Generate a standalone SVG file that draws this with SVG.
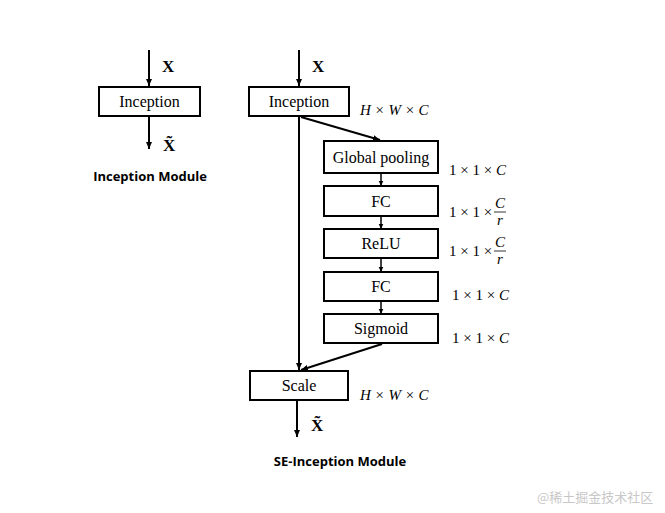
<svg xmlns="http://www.w3.org/2000/svg" width="665" height="513" viewBox="0 0 665 513">
<defs>
<marker id="ah" markerWidth="8" markerHeight="8" refX="7" refY="4" orient="auto" markerUnits="userSpaceOnUse">
<path d="M0,1 L7,4 L0,7 Z" fill="#000"/>
</marker>
<marker id="ahs" markerWidth="6" markerHeight="6" refX="5.5" refY="3" orient="auto" markerUnits="userSpaceOnUse">
<path d="M0,0.5 L5.5,3 L0,5.5 Z" fill="#000"/>
</marker>
<style>
.box{fill:#fff;stroke:#000;stroke-width:2}
.lbl{font-family:"Liberation Serif","Times New Roman",serif;font-size:16px;fill:#000;text-anchor:middle}
.x{font-family:"Liberation Serif","Times New Roman",serif;font-size:17px;font-weight:bold;fill:#000}
.dim{font-family:"Liberation Serif","Times New Roman",serif;font-size:15px;fill:#000}
.it{font-style:italic}
.cap{font-family:"Open Sans","Liberation Sans",sans-serif;font-size:13px;font-weight:bold;fill:#000;text-anchor:middle}
.ln{stroke:#000;stroke-width:2;fill:none}
.lns{stroke:#000;stroke-width:1.5;fill:none}
.wm{font-family:"Noto Sans CJK SC","Noto Sans",sans-serif;font-size:13px;fill:#c8c8c8}
</style>
</defs>
<rect width="665" height="513" fill="#fff"/>

<g id="connectors">
<line class="ln" x1="149" y1="50" x2="149" y2="86" marker-end="url(#ah)"/>
<line class="ln" x1="149" y1="117" x2="149" y2="149" marker-end="url(#ah)"/>
<line class="ln" x1="299" y1="50" x2="299" y2="86" marker-end="url(#ah)"/>
<line class="ln" x1="299" y1="117" x2="299" y2="370" marker-end="url(#ah)"/>
<line class="ln" x1="301" y1="117" x2="380" y2="140" marker-end="url(#ah)"/>
<line class="lns" x1="381" y1="174" x2="381" y2="186" marker-end="url(#ahs)"/>
<line class="lns" x1="381" y1="217" x2="381" y2="229" marker-end="url(#ahs)"/>
<line class="lns" x1="381" y1="259" x2="381" y2="272" marker-end="url(#ahs)"/>
<line class="lns" x1="381" y1="302" x2="381" y2="314" marker-end="url(#ahs)"/>
<line class="ln" x1="382" y1="344" x2="301" y2="370" marker-end="url(#ah)"/>
<line class="ln" x1="297" y1="401" x2="297" y2="437" marker-end="url(#ah)"/>
</g>

<g id="inception-left">
<rect class="box" x="99" y="87" width="101" height="29"/>
<text class="lbl" x="149.5" y="107">Inception</text>
</g>
<text class="x" x="162" y="72">X</text>
<text class="x" x="163" y="151">X̃</text>
<text class="cap" x="150" y="181">Inception Module</text>

<g id="inception-right">
<rect class="box" x="249" y="87" width="100" height="29"/>
<text class="lbl" x="299" y="107">Inception</text>
</g>
<text class="x" x="312" y="72">X</text>
<text class="dim it" x="360" y="115">H × W × C</text>

<g id="global-pooling">
<rect class="box" x="324" y="141" width="114" height="32"/>
<text class="lbl" x="381" y="163">Global pooling</text>
</g>
<text class="dim" x="449" y="175">1 × 1 × <tspan class="it">C</tspan></text>

<g id="fc1">
<rect class="box" x="324" y="186" width="114" height="30"/>
<text class="lbl" x="381" y="207">FC</text>
</g>
<text class="dim" x="449" y="217">1 × 1 ×</text>
<text class="dim it" x="500" y="208" text-anchor="middle">C</text>
<line x1="494" y1="212" x2="506" y2="212" stroke="#000" stroke-width="0.8"/>
<text class="dim it" x="500" y="225" text-anchor="middle">r</text>

<g id="relu">
<rect class="box" x="324" y="229" width="114" height="29"/>
<text class="lbl" x="381" y="249">ReLU</text>
</g>
<text class="dim" x="449" y="256">1 × 1 ×</text>
<text class="dim it" x="500" y="247" text-anchor="middle">C</text>
<line x1="494" y1="251" x2="506" y2="251" stroke="#000" stroke-width="0.8"/>
<text class="dim it" x="500" y="264" text-anchor="middle">r</text>

<g id="fc2">
<rect class="box" x="324" y="272" width="114" height="29"/>
<text class="lbl" x="381" y="292">FC</text>
</g>
<text class="dim" x="452" y="300">1 × 1 × <tspan class="it">C</tspan></text>

<g id="sigmoid">
<rect class="box" x="324" y="314" width="114" height="29"/>
<text class="lbl" x="381" y="334">Sigmoid</text>
</g>
<text class="dim" x="452" y="343">1 × 1 × <tspan class="it">C</tspan></text>

<g id="scale">
<rect class="box" x="250" y="371" width="98" height="29"/>
<text class="lbl" x="299" y="391">Scale</text>
</g>
<text class="dim it" x="360" y="400">H × W × C</text>
<text class="x" x="311" y="431">X̃</text>
<text class="cap" x="340" y="466">SE-Inception Module</text>

<text class="wm" x="537" y="502">@稀土掘金技术社区</text>
</svg>
